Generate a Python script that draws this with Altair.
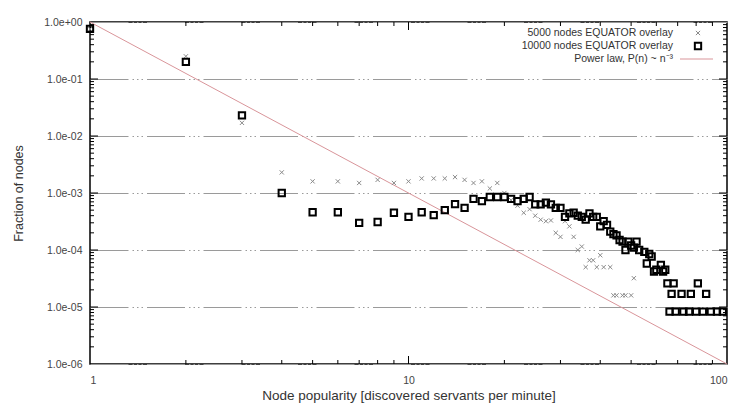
import altair as alt
import pandas as pd

W, H = 637, 342

# 10000 nodes EQUATOR overlay (squares)
sq_x = [1, 2, 3, 4, 5, 6, 7, 8, 9, 10, 11, 12, 13, 14, 15, 16, 17, 18, 19, 20,
        21, 22, 23, 24, 25, 26, 27, 28, 29, 30, 31, 32, 33, 34, 35, 36, 37, 38, 39, 40,
        41, 42, 43, 44, 45, 46, 47, 48, 49, 50, 51, 52, 53, 55, 56, 57, 58, 59, 60, 62,
        63, 64, 65, 66, 67, 68, 69, 72, 73, 76, 77, 80, 81, 84, 86, 89, 93, 97]
sq_y = [0.76, 0.2, 0.023, 1.0e-3, 4.6e-4, 4.6e-4, 3.0e-4, 3.1e-4, 4.5e-4, 3.8e-4,
        4.6e-4, 4.1e-4, 5.0e-4, 6.4e-4, 5.5e-4, 7.9e-4, 7.2e-4, 8.5e-4, 8.5e-4, 8.5e-4,
        7.9e-4, 7.2e-4, 7.9e-4, 8.5e-4, 6.3e-4, 6.3e-4, 6.8e-4, 6.3e-4, 5.5e-4, 5.5e-4,
        3.8e-4, 4.4e-4, 4.5e-4, 4.0e-4, 3.8e-4, 3.4e-4, 4.4e-4, 3.8e-4, 3.8e-4, 2.6e-4,
        3.2e-4, 2.75e-4, 2.1e-4, 1.9e-4, 1.8e-4, 1.5e-4, 1.4e-4, 1.0e-4, 1.4e-4, 1.2e-4,
        1.1e-4, 1.4e-4, 1.0e-4, 9.3e-5, 5.8e-5, 8.5e-5, 7.7e-5, 4.2e-5, 4.5e-5, 5.5e-5,
        4.2e-5, 4.5e-5, 2.6e-5, 8.3e-6, 1.7e-5, 2.6e-5, 8.3e-6, 1.7e-5, 8.3e-6, 8.3e-6,
        1.7e-5, 8.3e-6, 2.6e-5, 8.3e-6, 1.7e-5, 8.3e-6, 8.3e-6, 8.3e-6]

# 5000 nodes EQUATOR overlay (crosses)
cr_x = [1, 2, 3, 4, 5, 6, 7, 8, 9, 10, 11, 12, 13, 14, 15, 16, 17, 18, 19, 20,
        21, 22, 23, 24, 25, 26, 27, 28, 29, 30, 31, 32, 33, 34, 35, 36, 37, 38, 39, 40,
        41, 43, 44, 45, 47, 48, 50, 51]
cr_y = [0.75, 0.25, 0.017, 2.3e-3, 1.6e-3, 1.6e-3, 1.5e-3, 1.7e-3, 1.5e-3, 1.6e-3,
        1.8e-3, 1.8e-3, 1.8e-3, 1.9e-3, 1.7e-3, 1.5e-3, 1.6e-3, 1.2e-3, 1.5e-3, 1.0e-3,
        7.5e-4, 6.0e-4, 4.5e-4, 5.2e-4, 4.0e-4, 3.4e-4, 3.2e-4, 3.3e-4, 2.0e-4, 1.7e-4,
        3.2e-4, 2.6e-4, 1.7e-4, 1.0e-4, 1.15e-4, 5.0e-5, 6.6e-5, 6.6e-5, 5.0e-5, 8.1e-5,
        5.0e-5, 5.0e-5, 1.6e-5, 1.6e-5, 1.6e-5, 1.6e-5, 1.6e-5, 3.2e-5]

# Power law P(n) ~ n^-3, end points
power_n = [1, 100]
power_p = [1.0, 1.0e-6]

legend_labels = ["5000 nodes EQUATOR overlay", "10000 nodes EQUATOR overlay",
                 "Power law, P(n) ~ n\u207b\u00b3"]

x_major = [1, 10, 100]
y_major = [1.0, 1e-1, 1e-2, 1e-3, 1e-4, 1e-5, 1e-6]
x_minor = [m * d for d in (1, 10) for m in range(2, 10)]
y_minor = [m * d for d in (1e-6, 1e-5, 1e-4, 1e-3, 1e-2, 1e-1) for m in range(2, 10)]
x_major_inner = [10]
y_major_inner = [1e-1, 1e-2, 1e-3, 1e-4, 1e-5]

FONT = "Liberation Sans"
xs = alt.Scale(type="log", domain=[1, 100], nice=False)
ys = alt.Scale(type="log", domain=[1e-6, 1], nice=False)

df_sq = pd.DataFrame({"n": sq_x, "p": sq_y})
df_cr = pd.DataFrame({"n": cr_x, "p": cr_y})
df_pw = pd.DataFrame({"n": power_n, "p": power_p})

y_axis = alt.Axis(values=y_major, grid=True, gridColor="#9a9a9a", gridWidth=1,
                  gridDash=[38, 4, 1.5, 3, 1.5, 3, 1.5, 4], ticks=False, domain=False,
                  labelExpr="datum.value >= 0.5 ? '1.0e+00' : '1.0e-0' + round(-log(datum.value)/LN10)",
                  labelFontSize=10.5, labelColor="#444", labelPadding=8, labelFont=FONT,
                  title="Fraction of nodes", titleFontSize=12.5, titleFont=FONT,
                  titleFontWeight="normal", titleColor="#333", titlePadding=18)
x_axis = alt.Axis(values=x_major, grid=False, ticks=False, domain=False,
                  labelFontSize=10.5, labelColor="#444", labelPadding=11, labelFont=FONT,
                  format="d",
                  title="Node popularity [discovered servants per minute]", titleFontSize=13.5,
                  titleFont=FONT, titleFontWeight="normal", titleColor="#333", titlePadding=3)

power = alt.Chart(df_pw).mark_line(color="#d9959a", strokeWidth=1).encode(
    x=alt.X("n:Q", scale=xs, axis=x_axis),
    y=alt.Y("p:Q", scale=ys, axis=y_axis),
)

crosses = alt.Chart(df_cr).mark_point(
    shape="M-1,-1L1,1M-1,1L1,-1", filled=False, color="#8a8a8a", strokeWidth=1, size=18, opacity=1
).encode(x=alt.X("n:Q", scale=xs), y=alt.Y("p:Q", scale=ys))

squares = alt.Chart(df_sq).mark_point(
    shape="square", filled=False, color="black", strokeWidth=2, size=40, opacity=1
).encode(x=alt.X("n:Q", scale=xs), y=alt.Y("p:Q", scale=ys))


def xticks(vals, y0, y1):
    return alt.Chart(pd.DataFrame({"n": vals})).mark_rule(color="black", strokeWidth=1).encode(
        x=alt.X("n:Q", scale=xs), y=alt.value(y0), y2=alt.value(y1))


def yticks(vals, x0, x1):
    return alt.Chart(pd.DataFrame({"p": vals})).mark_rule(color="black", strokeWidth=1).encode(
        y=alt.Y("p:Q", scale=ys), x=alt.value(x0), x2=alt.value(x1))


ticks = [
    xticks(x_minor, H, H - 4), xticks(x_major_inner, H, H - 8),
    xticks(x_minor, 0, 4), xticks(x_major_inner, 0, 8),
    yticks(y_minor, 0, 4), yticks(y_major_inner, 0, 8),
    yticks(y_minor, W, W - 4), yticks(y_major_inner, W, W - 8),
]

leg_rows_y = [11, 24, 37]
leg_texts = [
    alt.Chart(pd.DataFrame({"label": [lab]})).mark_text(
        align="right", baseline="middle", fontSize=10.5, font=FONT, color="#333"
    ).encode(x=alt.value(583), y=alt.value(yy), text="label:N")
    for lab, yy in zip(legend_labels, leg_rows_y)
]

one = pd.DataFrame({"k": [0]})
leg_cross = alt.Chart(one).mark_point(
    shape="M-1,-1L1,1M-1,1L1,-1", filled=False, color="#8a8a8a", strokeWidth=1, size=18, opacity=1
).encode(x=alt.value(608), y=alt.value(11))
leg_sq = alt.Chart(one).mark_point(
    shape="square", filled=False, color="black", strokeWidth=2, size=40, opacity=1
).encode(x=alt.value(608), y=alt.value(24))
leg_line = alt.Chart(one).mark_rule(color="#d9959a", strokeWidth=1).encode(
    x=alt.value(590), x2=alt.value(623), y=alt.value(37))

chart = alt.layer(power, *ticks, crosses, squares, *leg_texts, leg_cross, leg_sq, leg_line).properties(
    width=W, height=H,
    autosize=alt.AutoSizeParams(type="none"),
    padding={"left": 90, "top": 22, "right": 10, "bottom": 39},
    background="white",
).configure_view(stroke="black", strokeWidth=1.5)

chart.save("out.html", embed_options={"renderer": "svg", "actions": False})
